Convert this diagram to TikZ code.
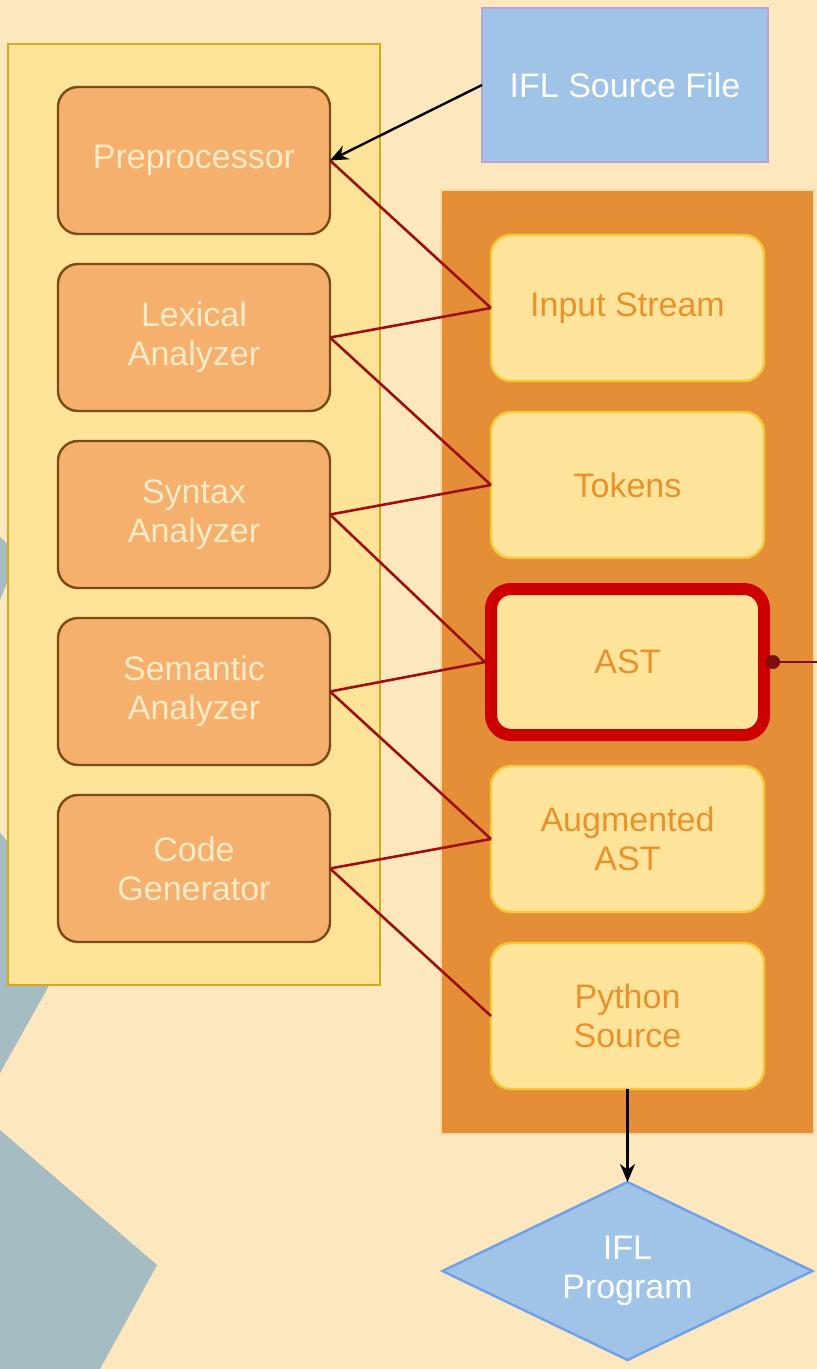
\documentclass[tikz,border=0pt]{standalone}
\usepackage{fontspec}
\setmainfont{Liberation Sans}
\usetikzlibrary{shapes.geometric, arrows.meta, positioning, fit, backgrounds}
\definecolor{pagecream}{HTML}{FDE7BE}
\definecolor{shadowgrey}{HTML}{A5BCC2}
\definecolor{panelyellow}{HTML}{FDE398}
\definecolor{panelgold}{HTML}{D6A81E}
\definecolor{stageorange}{HTML}{F4B06C}
\definecolor{stagebrown}{HTML}{7B4A16}
\definecolor{stagetext}{HTML}{FDEBC8}
\definecolor{dataorange}{HTML}{E48F38}
\definecolor{dataedge}{HTML}{F7D9A4}
\definecolor{itemfill}{HTML}{FDE49A}
\definecolor{itemline}{HTML}{F5C838}
\definecolor{itemtext}{HTML}{E8922E}
\definecolor{sourceblue}{HTML}{A0C4E8}
\definecolor{sourceline}{HTML}{B4A4DC}
\definecolor{programline}{HTML}{6FA0EC}
\definecolor{linkred}{HTML}{9E1010}
\definecolor{astred}{HTML}{CC0000}

\begin{document}
\begin{tikzpicture}[
    x=0.5pt, y=-0.5pt,
    font=\fontsize{17}{19.5}\selectfont,
    stage/.style={rectangle, rounded corners=10pt, draw=stagebrown, line width=1.2pt, fill=stageorange, text=stagetext, minimum width=136pt, minimum height=73.5pt, align=center, outer sep=0pt},
    item/.style={rectangle, rounded corners=10pt, draw=itemline, line width=1.2pt, fill=itemfill, text=itemtext, minimum width=136.5pt, minimum height=73pt, align=center, outer sep=0pt},
    link/.style={draw=linkred, line width=1.3pt},
    flow/.style={-{Stealth[length=9pt,width=7.5pt]}, line width=1.2pt, black}
]

% page and the grey shapes behind it
\begin{scope}[on background layer]
\fill[pagecream] (0,0) rectangle (817,1369);
\fill[shadowgrey] (0,537) -- (12,548) -- (10,575) -- (0,600) -- cycle;
\fill[shadowgrey] (0,833) -- (83,925) -- (0,1073) -- cycle;
\fill[shadowgrey] (0,1130) -- (157,1265) -- (100,1369) -- (0,1369) -- cycle;
\end{scope}
\useasboundingbox (0,0) rectangle (817,1369);

% compiler stages
\node[stage] (pre) at (194,160.5) {Preprocessor};
\node[stage, below=15pt of pre] (lex) {Lexical\\Analyzer};
\node[stage, below=15pt of lex] (syn) {Syntax\\Analyzer};
\node[stage, below=15pt of syn] (sem) {Semantic\\Analyzer};
\node[stage, below=15pt of sem] (gen) {Code\\Generator};

% intermediate data
\node[item] (input) at (627.5,308) {Input Stream};
\node[item, below=15.5pt of input] (tokens) {Tokens};
\node[item, below=15.5pt of tokens, draw=astred, line width=6pt] (ast) {AST};
\node[item, below=15.5pt of ast] (aug) {Augmented\\AST};
\node[item, below=15.5pt of aug] (python) {Python\\Source};

\node[rectangle, draw=sourceline, line width=0.8pt, fill=sourceblue, text=white, minimum width=143pt, minimum height=77pt, outer sep=0pt] (src) at (625,85) {IFL Source File};
\node[diamond, aspect=2.08, draw=programline, line width=1.2pt, fill=sourceblue, text=white, minimum width=185pt, minimum height=89pt, inner sep=0pt, align=center, outer sep=0pt, below=46.5pt of python] (prog) {IFL\\Program};

% containers
\begin{scope}[on background layer]
\node[rectangle, draw=panelgold, line width=1pt, fill=panelyellow, inner xsep=25pt, inner ysep=21.5pt, fit=(pre) (gen)] (stages) {};
\node[rectangle, draw=dataedge, line width=1pt, fill=dataorange, inner xsep=25pt, inner ysep=22.5pt, fit=(input) (python)] (data) {};
\end{scope}

% links between stages and data
\draw[link] (pre.east) -- (input.west);
\draw[link] (lex.east) -- (input.west);
\draw[link] (lex.east) -- (tokens.west);
\draw[link] (syn.east) -- (tokens.west);
\draw[link] (syn.east) -- ([xshift=-3pt]ast.west);
\draw[link] (sem.east) -- ([xshift=-3pt]ast.west);
\draw[link] (sem.east) -- (aug.west);
\draw[link] (gen.east) -- (aug.west);
\draw[link] (gen.east) -- (python.west);

\draw[flow] (src.west) -- (pre.east);
\draw[flow] (python.south) -- (prog.north);

% AST handle
\coordinate (astdot) at ([xshift=4.5pt]ast.east);
\coordinate (astout) at (817,662);
\draw[draw=linkred!80!black, line width=0.9pt] (astdot) -- (astout);
\fill[linkred!80!black] (astdot) circle (3.5pt);

\end{tikzpicture}
\end{document}
